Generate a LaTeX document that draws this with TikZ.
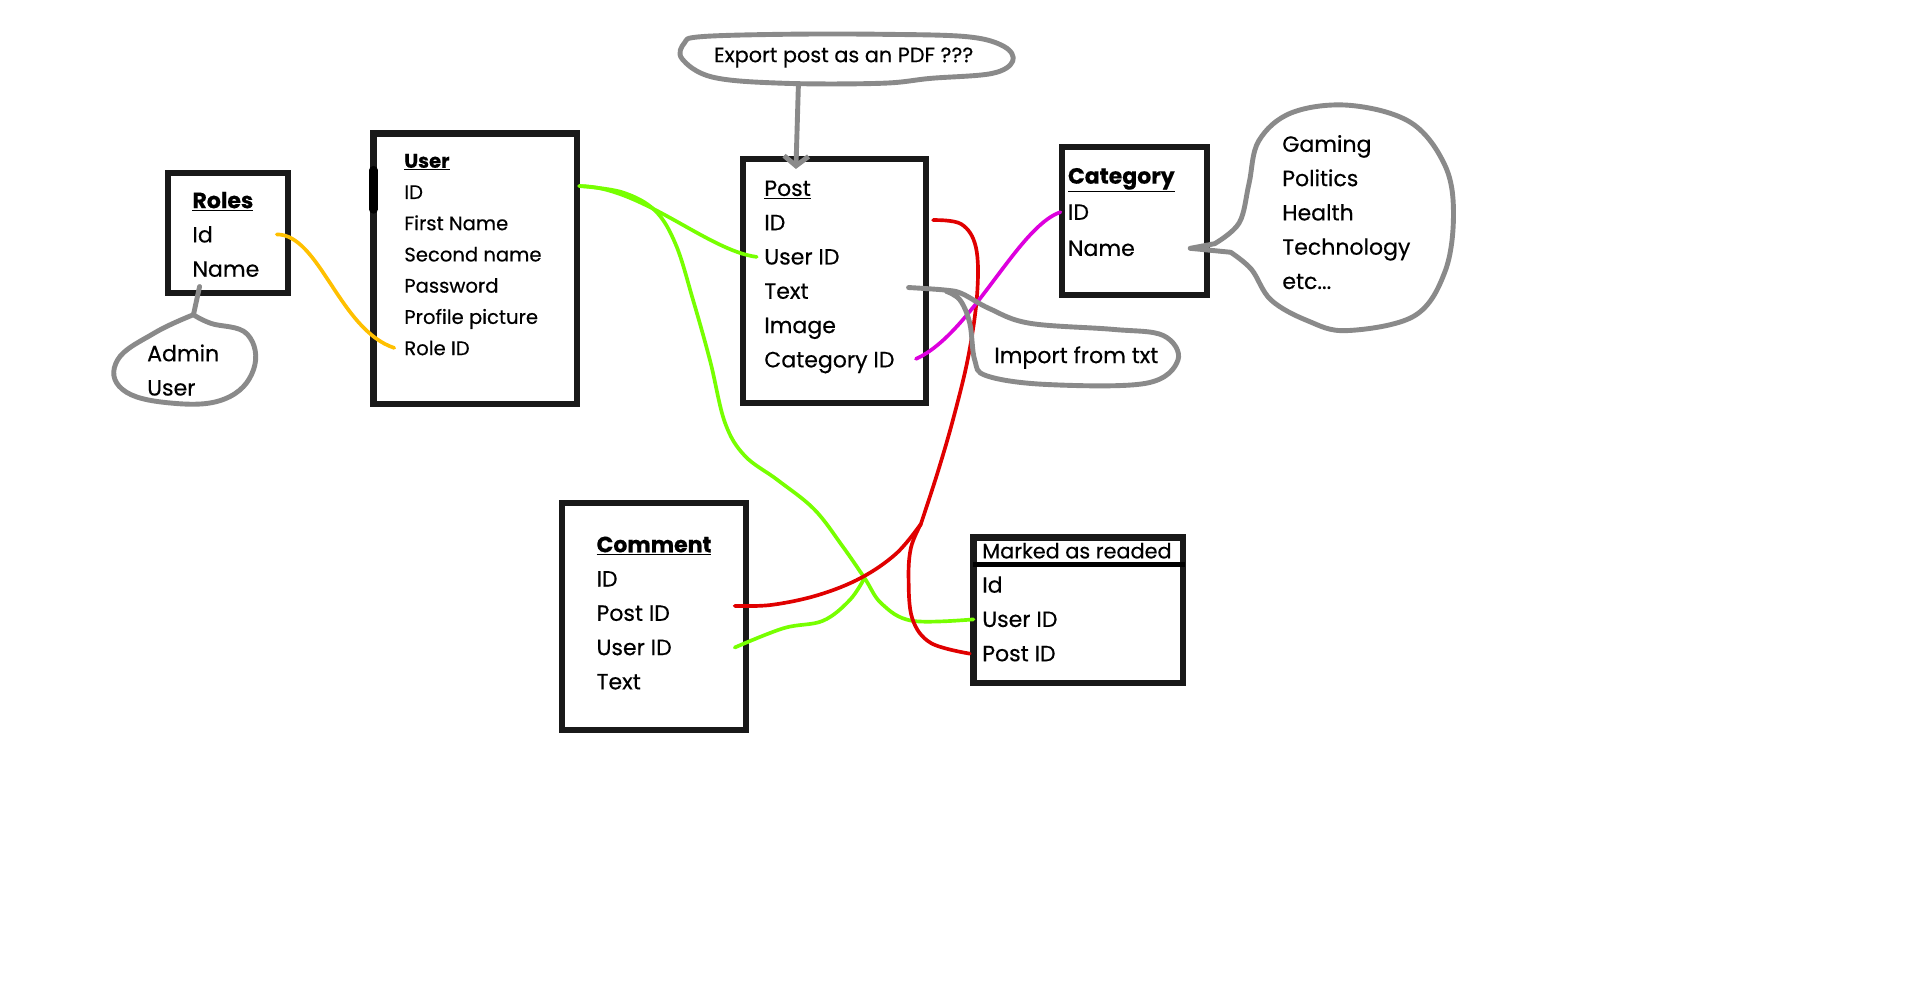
\documentclass[tikz,border=0pt]{standalone}
\usepackage{fontspec}
\setmainfont{Poppins}[FakeBold=0.4]
\usetikzlibrary{calc,arrows.meta}

\definecolor{fkyellow}{HTML}{FFC000}
\definecolor{fkgreen}{HTML}{77FF00}
\definecolor{fkred}{HTML}{E00000}
\definecolor{fkpink}{HTML}{DD00DD}
\definecolor{notegray}{HTML}{8A8A8A}

\tikzset{
  entity/.style={draw=black!90, line width=5pt, anchor=north west, inner sep=0pt, outer sep=0pt},
  field/.style={anchor=base west, inner sep=0pt, font=\fontsize{18}{20}\selectfont},
  smallfield/.style={field, font=\fontsize{16}{18}\selectfont},
  link/.style={line width=3pt, line cap=round, line join=round},
  note/.style={draw=notegray, line width=4pt, line cap=round, line join=round},
}

\begin{document}
\begin{tikzpicture}[x=1pt, y=-1pt]
\useasboundingbox[fill=white] (0,0) rectangle (1568,814);

% tables
\node[entity, minimum width=98pt, minimum height=98pt] (roles) at (137,141) {};
\node[entity, minimum width=166pt, minimum height=221pt] (user) at (305,109) {};
\node[entity, minimum width=149pt, minimum height=199pt] (post) at (607,130) {};
\node[entity, minimum width=119pt, minimum height=121pt] (category) at (867,120) {};
\node[entity, minimum width=150pt, minimum height=185pt] (comment) at (459,411) {};
\node[entity, minimum width=171pt, minimum height=119pt] (marked) at (795,439) {};
\draw[line width=4pt] ($(marked.north west)+(0,22)$) -- ($(marked.north east)+(2,22)$);
\draw[line width=7pt, line cap=round] ($(user.north west)+(0,30)$) -- ++(0,32);

\foreach \n/\t [count=\i from 0] in {title/\underline{\textbf{Roles}}, id/Id, name/Name}
  \node[field] (roles-\n) at (157,170+28*\i) {\t};
\foreach \n/\t [count=\i from 0] in {title/\underline{\textbf{User}}, id/ID, first/First Name,
    second/Second name, pass/Password, pic/Profile picture, role/Role ID}
  \node[smallfield] (user-\n) at (330,137+25.5*\i) {\t};
\foreach \n/\t [count=\i from 0] in {title/\underline{Post}, id/ID, userid/User ID,
    text/Text, image/Image, catid/Category ID}
  \node[field] (post-\n) at (624,160+28*\i) {\t};
\foreach \n/\t [count=\i from 0] in {title/\underline{\textbf{Category}}, id/ID, name/Name}
  \node[field] (cat-\n) at (872,150+29.5*\i) {\t};
\foreach \n/\t [count=\i from 0] in {title/\underline{\textbf{Comment}}, id/ID,
    postid/Post ID, userid/User ID, text/Text}
  \node[field] (comment-\n) at (487,451+28*\i) {\t};
\node[field, font=\fontsize{17}{19}\selectfont] (marked-title) at (802,456) {Marked as readed};
\foreach \n/\t [count=\i from 0] in {id/Id, userid/User ID, postid/Post ID}
  \node[field] (marked-\n) at (802,484+28*\i) {\t};

% notes
\node[field] (roles-admin) at (120,295) {Admin};
\node[field] (roles-user) at (120,323) {User};
\node[font=\fontsize{17}{19}\selectfont, inner sep=0pt] (export) at (689,47) {Export post as an PDF ???};
\node[font=\fontsize{18}{20}\selectfont, inner sep=0pt] (import) at (879,292) {Import from txt};
\foreach \n/\t [count=\i from 0] in {gaming/Gaming, politics/Politics, health/Health,
    tech/Technology, etc/{etc{.}{.}{.}}}
  \node[field] (cat-\n) at (1047,124+28*\i) {\t};

% connection points
\coordinate (roles-id-r) at ($(roles.east|-roles-id)+(-9,0)$);
\coordinate (user-role-l) at ($(user-role.west)+(-8,0)$);
\coordinate (user-id-r) at ($(user.east|-user-id)+(2,-5)$);
\coordinate (post-userid-l) at ($(post-userid.west)+(-6,0)$);
\coordinate (post-id-r) at ($(post.east|-post-id)+(6,-2)$);
\coordinate (post-catid-r) at ($(post.east|-post-catid)+(-8,-3)$);
\coordinate (post-text-r) at ($(post.east|-post-text)+(-14,-3)$);
\coordinate (cat-id-l) at ($(cat-id.west)+(-6,0)$);
\coordinate (cat-name-r) at ($(category.east|-cat-name)+(-14,0)$);
\coordinate (comment-postid-r) at ($(comment.east|-comment-postid)+(-9,-6)$);
\coordinate (comment-userid-r) at ($(comment.east|-comment-userid)+(-9,0)$);
\coordinate (marked-userid-l) at ($(marked-userid.west)+(-7,0)$);
\coordinate (marked-postid-l) at ($(marked-postid.west)+(-10,0)$);
\coordinate (green-x) at (706,472);
\coordinate (red-x) at (752,428);

% links
\draw[link, fkyellow] (roles-id-r) .. controls +(35,0) and +(-45,-15) .. (user-role-l);
\draw[link, fkgreen] (user-id-r) .. controls +(50,0) and +(-40,-5) .. (post-userid-l);
\draw[link, fkgreen] plot[smooth, tension=0.6] coordinates {(user-id-r) (508,157) (535,172)
  (552,200) (566,245) (580,295) (592,345) (608,372) (635,392) (665,416) (688,446)
  (green-x) (720,493) (745,507) (marked-userid-l)};
\draw[link, fkgreen] plot[smooth, tension=0.6] coordinates {(comment-userid-r) (640,513)
  (672,507) (694,490) (green-x)};
\draw[link, fkred] plot[smooth, tension=0.6] coordinates {(post-id-r) (785,183) (797,202)
  (798,240) (791,290) (779,340) (766,385) (red-x)};
\draw[link, fkred] plot[smooth, tension=0.6] coordinates {(red-x) (732,452) (703,472)
  (668,486) (630,494) (comment-postid-r)};
\draw[link, fkred] plot[smooth, tension=0.6] coordinates {(red-x) (744,447) (742,472)
  (745,505) (760,525) (marked-postid-l)};
\draw[link, fkpink] (post-catid-r) .. controls +(45,-20) and +(-35,12) .. (cat-id-l);

% speech bubbles
\draw[note] ($(roles.south)+(-23,-5)$) -- (158,257);
\draw[note] plot[smooth, tension=0.7] coordinates {(158,257) (126,272) (96,294) (100,318)
  (138,329) (183,326) (207,302) (202,273) (172,264) (158,257)};
\draw[note] plot[smooth cycle, tension=0.6] coordinates {(572,30) (640,28) (720,28) (790,30)
  (820,38) (827,50) (810,60) (760,64) (720,68) (640,68) (582,63) (557,48) (559,35)};
\draw[note, -{Straight Barb[length=8pt, width=20pt]}] ($(export.center)+(-37,23)$)
  -- ($(post.north west)+(43,8)$);
\draw[note] plot[smooth, tension=0.6] coordinates {(post-text-r) (773,237) (786,240)
  (808,252) (841,264) (909,269) (950,274) (962,294) (936,313) (855,314) (806,307)
  (796,294) (792,264) (784,245) (773,238)};
\draw[note] (cat-name-r) -- (992,199) -- plot[smooth, tension=0.6] coordinates {(992,199)
  (1012,182) (1020,150) (1028,115) (1055,92) (1102,86) (1152,100) (1180,135) (1187,175)
  (1180,222) (1155,258) (1100,270) (1068,262) (1038,245) (1022,220) (1005,206)}
  -- (cat-name-r);
\end{tikzpicture}
\end{document}
